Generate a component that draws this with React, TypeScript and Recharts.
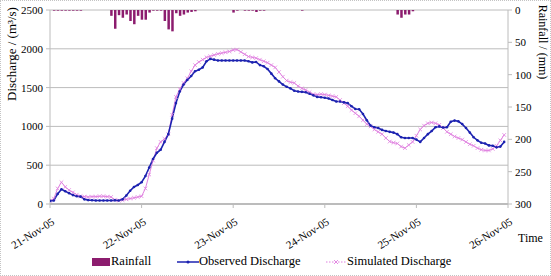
import React from "react"
import {
  ComposedChart,
  Bar,
  Line,
  XAxis,
  YAxis,
  CartesianGrid,
  Legend,
} from "recharts"

// hourly series from 21-Nov-05 00:00 to 26-Nov-05 00:00
const dateLabels = ["21-Nov-05", "22-Nov-05", "23-Nov-05", "24-Nov-05", "25-Nov-05", "26-Nov-05"]
const dateTicks = [0, 24, 48, 72, 96, 120]
const dischargeTicks = [0, 500, 1000, 1500, 2000, 2500]
const rainTicks = [0, 50, 100, 150, 200, 250, 300]

const observed = [
  40, 45, 130, 190, 165, 140, 115, 100, 95, 60,
  50, 48, 45, 45, 45, 45, 45, 48, 45, 60,
  110, 170, 220, 245, 280, 360, 470, 580, 660, 700,
  800, 900, 1100, 1300, 1450, 1540, 1600, 1650, 1710, 1730,
  1760, 1840, 1870, 1860, 1850, 1850, 1850, 1850, 1850, 1850,
  1850, 1850, 1840, 1825, 1830, 1790, 1775, 1740, 1680, 1620,
  1580, 1540, 1510, 1490, 1460, 1450, 1445, 1440, 1420, 1400,
  1380, 1375, 1370, 1360, 1340, 1320, 1320, 1310, 1300, 1260,
  1225, 1220, 1160, 1080, 1010, 990, 980, 955, 940, 930,
  920, 900, 860, 850, 850, 850, 830, 800, 850, 900,
  940, 990, 1000, 985, 990, 1060, 1075, 1065, 1030, 980,
  920, 860, 820, 790, 780, 755, 750, 730, 740, 800,
]

const simulated = [
  40, 70, 200, 280, 220, 180, 150, 120, 100, 95,
  90, 95, 95, 100, 100, 95, 90, 55, 45, 50,
  60, 70, 80, 90, 100, 200, 380, 560, 720, 800,
  840, 900, 1150, 1380, 1480, 1560, 1620, 1710, 1790, 1830,
  1860, 1890, 1905, 1920, 1935, 1945, 1955, 1965, 1985, 1990,
  1960, 1930, 1900, 1890, 1880, 1860, 1840, 1820, 1790, 1760,
  1700, 1640, 1590, 1570, 1560, 1520, 1490, 1470, 1440, 1415,
  1410, 1415, 1410, 1400, 1390, 1380, 1340, 1300, 1260, 1210,
  1170, 1130, 1080, 1030, 1000, 960, 930, 900, 850, 805,
  790, 780, 740, 720, 760, 800, 880, 960, 1010, 1040,
  1050, 1040, 1020, 980, 930, 900, 870, 850, 830, 800,
  770, 750, 720, 700, 690, 690, 710, 750, 820, 890,
]

const rainfall = [
  0, 1, 1, 1, 1, 1, 1, 1, 1, 0,
  0, 0, 0, 0, 0, 0, 9, 29, 8, 12,
  7, 17, 22, 9, 15, 15, 4, 1, 1, 1,
  17, 30, 33, 5, 9, 7, 4, 3, 2, 0,
  0, 0, 0, 0, 0, 0, 0, 0, 4, 1,
  0, 1, 1, 1, 3, 1, 1, 0, 0, 0,
  0, 0, 0, 0, 0, 0, 1, 0, 0, 0,
  0, 0, 0, 0, 0, 0, 0, 0, 0, 0,
  0, 0, 0, 0, 0, 0, 0, 0, 0, 0,
  0, 7, 12, 7, 7, 2, 0, 0, 0, 0,
  0, 0, 0, 0, 0, 0, 0, 0, 0, 0,
  0, 0, 0, 0, 0, 0, 0, 0, 0, 0,
  0,
]

const data = rainfall.map((r, h) => ({
  h,
  rain: r > 0 ? r : null,
  obs: observed[h] ?? null,
  sim: simulated[h] ?? null,
}))

const FONT = "'Liberation Serif', 'Times New Roman', serif"
const RAIN = "#8c1c6e"
const OBS = "#1c22b0"
const SIM = "#e080e0"
const GRID = "#bcbcbc"

const ObsDot = (props: any) => {
  const { cx, cy, index } = props
  if (cx == null || cy == null) return <g key={`o-${index}`} />
  return <circle key={`o-${index}`} cx={cx} cy={cy} r={1.3} fill={OBS} />
}

const SimDot = (props: any) => {
  const { cx, cy, index } = props
  if (cx == null || cy == null) return <g key={`s-${index}`} />
  return (
    <path
      key={`s-${index}`}
      d={`M${cx - 1.8},${cy - 1.8}L${cx + 1.8},${cy + 1.8}M${cx - 1.8},${cy + 1.8}L${cx + 1.8},${cy - 1.8}`}
      stroke={SIM}
      strokeWidth={0.8}
    />
  )
}

const DateTick = (props: any) => {
  const { x, y, payload } = props
  const i = dateTicks.indexOf(payload.value)
  return (
    <g transform={`translate(${x + 1},${y + 7})`}>
      <text
        x={0}
        y={0}
        dy={8}
        textAnchor="end"
        transform="rotate(-32)"
        fontSize={11}
        fontFamily={FONT}
        fill="#000"
      >
        {dateLabels[i]}
      </text>
    </g>
  )
}

const ChartLegend = () => (
  <div style={{ position: "relative", width: 551, height: 27, fontFamily: FONT, fontSize: 12.5, color: "#000" }}>
    <div style={{ position: "absolute", left: 92, top: 9, width: 18, height: 8, background: RAIN }} />
    <span style={{ position: "absolute", left: 111, top: 5, lineHeight: "14px" }}>Rainfall</span>
    <svg style={{ position: "absolute", left: 176, top: 8 }} width={24} height={10}>
      <line x1={1} y1={5} x2={23} y2={5} stroke={OBS} strokeWidth={1.5} />
      <circle cx={12} cy={5} r={1.5} fill={OBS} />
    </svg>
    <span style={{ position: "absolute", left: 199, top: 5, lineHeight: "14px" }}>Observed Discharge</span>
    <svg style={{ position: "absolute", left: 325, top: 8 }} width={22} height={10}>
      <line x1={1} y1={5} x2={21} y2={5} stroke={SIM} strokeWidth={1} strokeDasharray="1.5 1.5" />
      <path d="M9,3L13,7M9,7L13,3" stroke={SIM} strokeWidth={0.9} />
    </svg>
    <span style={{ position: "absolute", left: 347, top: 5, lineHeight: "14px" }}>Simulated Discharge</span>
  </div>
)

export default function App() {
  return (
    <div style={{ position: "fixed", left: 0, top: 0, width: 551, height: 276, background: "#fff" }}>
      <ComposedChart
        width={551}
        height={276}
        data={data}
        margin={{ top: 10, right: 0, bottom: 0, left: 0 }}
      >
        <CartesianGrid vertical={false} stroke={GRID} strokeWidth={1} yAxisId="left" />
        <XAxis
          dataKey="h"
          type="number"
          domain={[0, 120]}
          ticks={dateTicks}
          tick={<DateTick />}
          tickSize={4}
          height={45}
          interval={0}
          axisLine={{ stroke: GRID, strokeWidth: 2 }}
          tickLine={{ stroke: GRID }}
          allowDataOverflow
        />
        <YAxis
          yAxisId="left"
          domain={[0, 2500]}
          ticks={dischargeTicks}
          width={50}
          tickSize={4}
          tickMargin={3}
          axisLine={{ stroke: GRID }}
          tickLine={{ stroke: GRID }}
          tick={{ fontSize: 11, fontFamily: FONT, fill: "#000" }}
        />
        <YAxis
          yAxisId="right"
          orientation="right"
          reversed
          domain={[0, 300]}
          ticks={rainTicks}
          width={43}
          tickSize={4}
          tickMargin={3}
          axisLine={{ stroke: GRID }}
          tickLine={{ stroke: GRID }}
          tick={{ fontSize: 11, fontFamily: FONT, fill: "#000" }}
        />
        <Legend
          verticalAlign="bottom"
          height={27}
          content={<ChartLegend />}
          wrapperStyle={{ left: 0, bottom: 0, width: 551, height: 27 }}
        />
        <Bar yAxisId="right" dataKey="rain" fill={RAIN} barSize={2.5} isAnimationActive={false} />
        <Line
          yAxisId="left"
          dataKey="sim"
          stroke={SIM}
          strokeWidth={1}
          dot={<SimDot />}
          activeDot={false}
          isAnimationActive={false}
        />
        <Line
          yAxisId="left"
          dataKey="obs"
          stroke={OBS}
          strokeWidth={1.6}
          dot={<ObsDot />}
          activeDot={false}
          isAnimationActive={false}
        />
      </ComposedChart>
      <div
        style={{
          position: "absolute",
          left: 12,
          top: 54,
          transform: "translate(-50%, -50%) rotate(-90deg)",
          whiteSpace: "nowrap",
          fontFamily: FONT,
          fontSize: 13,
        }}
      >
        Discharge / (m³/s)
      </div>
      <div
        style={{
          position: "absolute",
          left: 542,
          top: 42,
          transform: "translate(-50%, -50%) rotate(90deg)",
          whiteSpace: "nowrap",
          fontFamily: FONT,
          fontSize: 12,
        }}
      >
        Rainfall / (mm)
      </div>
      <div style={{ position: "absolute", left: 518, top: 231, fontFamily: FONT, fontSize: 12 }}>Time</div>
      <div
        style={{
          position: "absolute",
          inset: 0,
          border: "1px dotted #c4c4c4",
          pointerEvents: "none",
        }}
      />
    </div>
  )
}
